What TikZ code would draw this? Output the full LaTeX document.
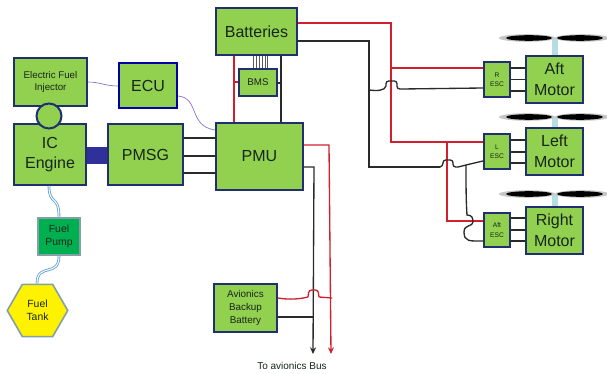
\documentclass[tikz,border=0pt]{standalone}
\usepackage{fontspec}
\setmainfont{Liberation Sans}
\usetikzlibrary{shapes.geometric,arrows.meta}
\definecolor{gfill}{HTML}{92D050}
\definecolor{navy}{HTML}{1F2F70}
\definecolor{wred}{HTML}{D0202E}
\definecolor{wblk}{HTML}{2A2A2A}
\definecolor{txt}{HTML}{16261A}
\definecolor{sig}{HTML}{7A70C8}
\definecolor{fuel}{HTML}{5B9BD5}
\definecolor{greyb}{HTML}{82A0A6}
\definecolor{mast}{HTML}{B5DDE3}
\definecolor{shaft}{HTML}{30309A}
\tikzset{
  box/.style={draw=navy,fill=gfill,line width=1.5pt,inner sep=0pt,align=center,text=txt,font=\fontsize{12}{15.5}\selectfont},
  smallbox/.style={box,font=\fontsize{7.3}{9}\selectfont},
  escbox/.style={box,font=\fontsize{5}{7}\selectfont},
  redw/.style={draw=wred,line width=1pt},
  blkw/.style={draw=wblk,line width=1pt},
  sigw/.style={draw=sig,line width=0.5pt},
  fuelw/.style={draw=fuel,line width=0.6pt,double=white,double distance=0.8pt},
  jump/.style={rounded corners=2pt},
  busarrow/.style={-{Stealth[length=5pt,width=4.5pt]}},
}
\newcommand{\bx}[7][box]{% style, name, x1,y1,x2,y2, text
  \pgfmathsetmacro{\bxw}{(#5-#3-2)*0.75}\pgfmathsetmacro{\bxh}{(#6-#4-2)*0.75}
  \pgfmathsetmacro{\bxx}{(#3+#5)/2}\pgfmathsetmacro{\bxy}{(#4+#6)/2}
  \node[#1,minimum width=\bxw pt,minimum height=\bxh pt] (#2) at (\bxx,\bxy) {#7};}
\newcommand{\prop}[2]{%
  \fill[gray!45] (#1-28,#2) ellipse [x radius=28,y radius=3.8];
  \fill[gray!45] (#1+27,#2) ellipse [x radius=27,y radius=3.8];
  \fill[black] (#1-26,#2) ellipse [x radius=23,y radius=2.8];
  \fill[black] (#1+25,#2) ellipse [x radius=23,y radius=2.8];}
\begin{document}
\begin{tikzpicture}[x=0.75pt,y=-0.75pt]
\useasboundingbox (0,0) rectangle (607,374);
% propellers and masts
\fill[mast] (552,38) rectangle (558,56);
\fill[mast] (552,117) rectangle (558,128);
\fill[mast] (552,194) rectangle (558,207);
\prop{555}{38}\prop{555}{117}\prop{555}{194}
% boxes
\bx{bat}{215}{7}{298}{56}{Batteries}
\bx[smallbox]{bms}{238}{68}{278}{97}{BMS}
\bx[smallbox]{efi}{13}{57}{88}{107}{Electric Fuel\\Injector}
\bx{ic}{13}{123}{87}{186}{IC\\Engine}
\bx{pmsg}{107}{123}{184}{186}{PMSG}
\bx[box,draw=blue!65!black]{ecu}{118}{62}{178}{109}{ECU}
\bx{pmu}{215}{122}{304}{191}{PMU}
\bx[smallbox,font=\fontsize{7.4}{9.5}\selectfont]{bkp}{213}{283}{278}{333}{Avionics\\Backup\\Battery}
\bx[escbox]{resc}{483}{61}{511}{98}{R\\ESC}
\bx[escbox]{lesc}{483}{133}{511}{170}{L\\ESC}
\bx[escbox]{aesc}{483}{212}{511}{248}{Aft\\ESC}
\bx{amot}{525}{55}{584}{104}{Aft\\Motor}
\bx{lmot}{525}{127}{584}{176}{Left\\Motor}
\bx{rmot}{525}{206}{584}{255}{Right\\Motor}
\bx[smallbox,draw=greyb,fill={rgb,255:red,0;green,176;blue,80},font=\fontsize{7.8}{10}\selectfont]{pump}{37}{217}{81}{256}{Fuel\\Pump}
\node[regular polygon,regular polygon sides=6,draw=greyb,fill=yellow,line width=1.2pt,minimum size=60.5*0.75pt,inner sep=0pt,align=center,text=txt,font=\fontsize{7.8}{10}\selectfont,shape border rotate=0] (tank) at (37.5,310.5) {Fuel\\Tank};
\node[circle,draw=navy,fill=gfill,line width=1.5pt,minimum size=25*0.75pt,inner sep=0pt] (inj) at (49,116) {};
\node[font=\fontsize{7.5}{9}\selectfont,text=txt] (bus) at (292,366) {To avionics Bus};
% shaft and PMSG feeders
\fill[shaft] (ic.east |- 0,147) rectangle (pmsg.west |- 0,164);
\foreach \yy in {138,156,173}{\draw[blkw] (pmsg.east |- 0,\yy) -- (pmu.west |- 0,\yy);}
% signal lines
\draw[sigw] (efi.east |- 0,82) .. controls (100,82) and (105,86) .. (ecu.west |- 0,86);
\draw[sigw] (ecu.east |- 0,96) .. controls (200,98) and (188,126) .. (pmu.west |- 0,130);
% fuel
\draw[fuelw] (ic.south -| 49,0) .. controls (49,206) and (59,194) .. (pump.north -| 59,0);
\draw[fuelw] (pump.south -| 59,0) .. controls (59,278) and (37,262) .. (tank.north -| 37,0);
% battery to PMU and BMS
\draw[redw] (bat.south -| 234,0) -- (pmu.north -| 234,0);
\draw[redw] (234,82) coordinate (rj) -- (bms.west |- rj);
\draw[blkw] (bat.south -| 281,0) -- (pmu.north -| 281,0);
\draw[blkw] (281,83) coordinate (bj) -- (bms.east |- bj);
\foreach \xx in {253,256,259,262,265,267}{\draw[draw=gray!70!black,line width=0.7pt] (bat.south -| \xx,0) -- (bms.north -| \xx,0);}
% battery to ESCs, red
\draw[redw] (bat.east |- 0,23) -| (391,142) coordinate (r2) -- (lesc.west |- r2);
\draw[redw] (391,68) coordinate (r1) -- (resc.west |- r1);
\draw[redw] (447,142) coordinate (r3) |- (aesc.west |- 0,221);
% battery to ESCs, black
\draw[blkw] (bat.east |- 0,41) -| (369,167) coordinate (b1) -- (440,167);
\draw[blkw,jump] (440,167) -- (443,166) -- (443,160) -- (453,160) -- (453,167) -- (458,167);
\draw[blkw] (458,167) -- (466,165) coordinate (b3) -- (lesc.west |- 0,161);
\draw[blkw] (369,90) coordinate (b2) .. controls (376,91) and (385,91) .. (386,86);
\draw[blkw,jump] (386,86) -- (386,81) -- (397,81) -- (397,89) -- (402,89);
\draw[blkw] (402,89) -- (resc.west |- 0,88);
\draw[blkw] (b3) .. controls (466,185) and (466,200) .. (467,215) .. controls (472,215) and (473,218) .. (473,222) .. controls (473,227) and (464,224) .. (464,232) .. controls (464,242) and (470,241) .. (aesc.west |- 0,241);
% ESC to motor
\foreach \yy in {68,79.5,91}{\draw[blkw] (resc.east |- 0,\yy) -- (amot.west |- 0,\yy);}
\foreach \yy in {140,152,163}{\draw[blkw] (lesc.east |- 0,\yy) -- (lmot.west |- 0,\yy);}
\foreach \yy in {218,230,241}{\draw[blkw] (aesc.east |- 0,\yy) -- (rmot.west |- 0,\yy);}
% PMU to bus
\draw[redw,busarrow] (pmu.east |- 0,145) -- (329,145) -- (331,354);
\draw[blkw,busarrow] (pmu.east |- 0,167) -- (314,167) -- (313,354);
% backup battery
\draw[redw] (bkp.east |- 0,298) .. controls (290,300) and (300,299) .. (308,297);
\draw[redw,jump] (308,297) -- (309,290) -- (318,290) -- (319,297);
\draw[redw] (319,297) -- (332,298);
\draw[blkw] (bkp.east |- 0,317) -- (313,317);
\end{tikzpicture}
\end{document}
